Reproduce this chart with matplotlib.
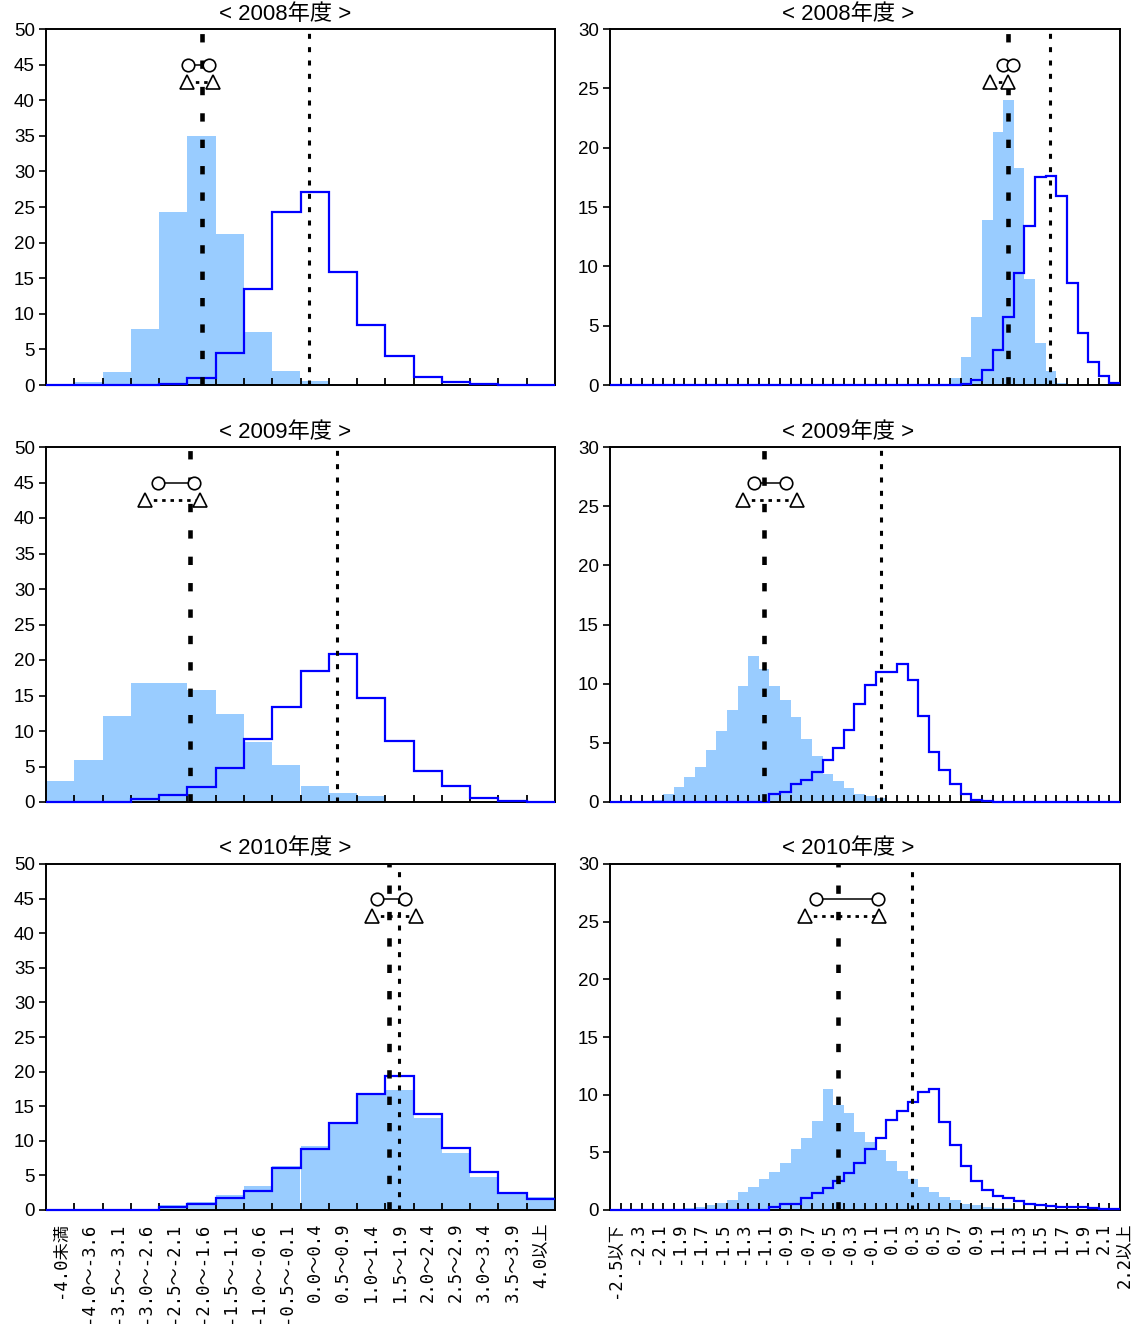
import numpy as np
import matplotlib
matplotlib.use("Agg")
import matplotlib.pyplot as plt
from matplotlib.transforms import ScaledTranslation

plt.rcParams['lines.scale_dashes'] = False
plt.rcParams['font.family'] = ['DejaVu Sans Mono', 'Noto Sans CJK JP']
SANS = ['Liberation Sans', 'Noto Sans CJK JP']

years = ["2008", "2009", "2010"]

left_labels = ["-4.0未満", "-4.0～-3.6", "-3.5～-3.1", "-3.0～-2.6", "-2.5～-2.1",
               "-2.0～-1.6", "-1.5～-1.1", "-1.0～-0.6", "-0.5～-0.1", "0.0～0.4",
               "0.5～0.9", "1.0～1.4", "1.5～1.9", "2.0～2.4", "2.5～2.9",
               "3.0～3.4", "3.5～3.9", "4.0以上"]

right_labels = ["-2.5以下", "-2.4", "-2.3", "-2.2", "-2.1", "-2.0", "-1.9", "-1.8",
                "-1.7", "-1.6", "-1.5", "-1.4", "-1.3", "-1.2", "-1.1", "-1.0",
                "-0.9", "-0.8", "-0.7", "-0.6", "-0.5", "-0.4", "-0.3", "-0.2",
                "-0.1", "0.0", "0.1", "0.2", "0.3", "0.4", "0.5", "0.6",
                "0.7", "0.8", "0.9", "1.0", "1.1", "1.2", "1.3", "1.4",
                "1.5", "1.6", "1.7", "1.8", "1.9", "2.0", "2.1", "2.2以上"]

# ---- left column (18 bins, 0-50) ----
fill_L_2008 = [0.1, 0.4, 1.8, 7.9, 24.3, 35.0, 21.2, 7.4, 2.0, 0.5, 0.1, 0.05, 0, 0, 0, 0, 0, 0]
line_L_2008 = [0, 0, 0, 0, 0.1, 1.0, 4.5, 13.5, 24.3, 27.1, 15.9, 8.4, 4.1, 1.1, 0.4, 0.1, 0.05, 0]
fill_L_2009 = [2.96, 5.9, 12.1, 16.7, 16.7, 15.8, 12.4, 8.5, 5.2, 2.25, 1.3, 0.8, 0.2, 0.05, 0, 0, 0, 0]
line_L_2009 = [0, 0, 0, 0.4, 1.0, 2.1, 4.8, 8.9, 13.4, 18.5, 20.8, 14.7, 8.6, 4.3, 2.25, 0.6, 0.2, 0]
fill_L_2010 = [0.1, 0.1, 0.15, 0.2, 0.7, 1.1, 2.2, 3.5, 6.4, 9.3, 12.6, 16.7, 17.4, 13.3, 8.3, 4.8, 2.6, 1.9]
line_L_2010 = [0, 0, 0, 0.05, 0.4, 0.9, 1.7, 2.7, 6.1, 8.8, 12.6, 16.7, 19.4, 13.9, 9.0, 5.5, 2.5, 1.6]

dash_L = [5.02, 4.60, 11.62]
dot_L = [8.79, 9.79, 11.97]
circ_L = [(4.51, 5.27), (3.47, 4.74), (11.20, 12.19)]
tri_L = [(4.49, 5.41), (3.00, 4.94), (11.02, 12.57)]

# ---- right column (48 bins, 0-30) ----
fill_R_2008 = [0]*31 + [0.1, 0.6, 2.4, 5.75, 13.9, 21.3, 24.0, 18.3, 8.9, 3.5, 1.2, 0.2, 0, 0, 0, 0, 0]
line_R_2008 = [0]*33 + [0.1, 0.4, 1.3, 2.95, 5.75, 9.4, 13.4, 17.5, 17.6, 15.9, 8.6, 4.4, 1.9, 0.8, 0.2]
fill_R_2009 = [0, 0, 0.05, 0.1, 0.2, 0.65, 1.3, 2.1, 3.0, 4.4, 6.0, 7.8, 9.8, 12.3, 11.2, 9.8,
               8.6, 7.2, 5.3, 3.9, 2.4, 1.8, 1.2, 0.7, 0.5, 0.3, 0.1] + [0]*21
line_R_2009 = [0]*15 + [0.65, 0.87, 1.5, 1.9, 2.5, 3.55, 4.6, 6.1, 8.3, 9.9, 11.0, 11.0, 11.7,
                        10.3, 7.3, 4.2, 2.7, 1.5, 0.65, 0.15, 0.1] + [0]*12
fill_R_2010 = [0, 0, 0, 0, 0, 0, 0.05, 0.15, 0.3, 0.45, 0.6, 0.85, 1.55, 2.0, 2.7, 3.3, 4.1,
               5.25, 6.2, 7.7, 10.5, 9.1, 8.45, 6.8, 5.9, 5.2, 4.25, 3.4, 2.7, 2.0, 1.55, 1.1,
               0.85, 0.55, 0.4, 0.3, 0.2, 0.15, 0.1, 0.1, 0.05, 0.05, 0, 0, 0, 0, 0, 0]
line_R_2010 = [0]*15 + [0.25, 0.55, 0.55, 1.0, 1.5, 1.9, 2.5, 3.2, 4.1, 5.25, 6.2, 7.8, 8.6, 9.4,
                        10.2, 10.5, 7.6, 5.6, 3.8, 2.5, 1.75, 1.2, 1.05, 0.75, 0.5, 0.4, 0.35,
                        0.3, 0.3, 0.25, 0.2, 0.1, 0.1]

dash_R = [36.99, 14.02, 20.99]
dot_R = [40.9, 25.0, 27.96]
circ_R = [(36.5, 37.4), (13.05, 16.06), (18.9, 24.75)]
tri_R = [(35.26, 36.99), (12.02, 17.1), (17.85, 24.85)]

fills_L = [fill_L_2008, fill_L_2009, fill_L_2010]
lines_L = [line_L_2008, line_L_2009, line_L_2010]
fills_R = [fill_R_2008, fill_R_2009, fill_R_2010]
lines_R = [line_R_2008, line_R_2009, line_R_2010]

W, H = 1139, 1329
fig = plt.figure(figsize=(W / 100, H / 100), dpi=100)

rows = [(29, 385), (447, 802), (864, 1210)]
cols = [(46, 555), (610, 1120)]
title_y = [15, 432, 849]
title_x = [285, 848]
LABEL_PAD = 9


def draw(ax, labels, fill, line, ymax, dx, tx, circ, tri, shown, show_labels, last_shift):
    n = len(labels)
    x = np.arange(n)
    ax.bar(x, fill, width=1.0, color='#99CCFF', linewidth=0, zorder=1)
    ax.stairs(line, np.arange(n + 1) - 0.5, baseline=None, color='#0000FF',
              lw=1.6, zorder=3, clip_on=False)
    ax.axvline(dx, color='black', lw=3.3, ls=(0, (6, 13)), zorder=4)
    ax.axvline(tx, color='black', lw=2.2, ls=(0, (3.6, 6)), zorder=4)
    ax.plot(circ, [0.9 * ymax] * 2, color='black', lw=1.1, marker='o', ms=9,
            mfc='white', mec='black', mew=1.2, zorder=6)
    ax.plot(tri, [0.85 * ymax] * 2, color='black', lw=2.0, ls=(0, (2.5, 3.5)), zorder=6)
    ax.plot(tri, [0.85 * ymax] * 2, ls='none', marker='^', ms=10, mfc='white',
            mec='black', mew=1.2, zorder=7)
    ax.set_xlim(-0.5, n - 0.5)
    ax.set_ylim(0, ymax)
    yt = np.arange(0, ymax + 1, 5)
    ax.set_yticks(yt)
    ax.set_yticklabels([str(int(v)) for v in yt], fontfamily=SANS, fontsize=13.5)
    ax.tick_params(axis='y', direction='out', length=5, width=1.2, pad=3)
    ax.set_xticks(np.arange(1, n) - 0.5, minor=True)
    ax.tick_params(axis='x', which='minor', direction='in', length=5, width=1.3)
    if show_labels:
        main = shown[:-1] if last_shift else shown
        ax.set_xticks(main)
        ax.set_xticklabels([labels[i] for i in main], rotation=90, va='top',
                           ha='center', fontsize=12.4)
        ax.tick_params(axis='x', which='major', length=0, pad=LABEL_PAD)
        if last_shift:
            k = shown[-1]
            tr = ax.get_xaxis_transform() + ScaledTranslation(
                last_shift / 100, -LABEL_PAD / 72, fig.dpi_scale_trans)
            ax.text(k, 0, labels[k], transform=tr, rotation=90, va='top',
                    ha='center', fontsize=12.4, clip_on=False)
    else:
        ax.set_xticks([])
    for s in ax.spines.values():
        s.set_linewidth(1.4)
        s.set_color('black')


for r in range(3):
    y0, y1 = rows[r]
    for c in range(2):
        x0, x1 = cols[c]
        ax = fig.add_axes([x0 / W, 1 - y1 / H, (x1 - x0) / W, (y1 - y0) / H])
        if c == 0:
            draw(ax, left_labels, fills_L[r], lines_L[r], 50, dash_L[r], dot_L[r],
                 circ_L[r], tri_L[r], list(range(len(left_labels))), r == 2, 0)
        else:
            shown = list(range(0, 47, 2)) + [47]
            draw(ax, right_labels, fills_R[r], lines_R[r], 30, dash_R[r], dot_R[r],
                 circ_R[r], tri_R[r], shown, r == 2, 10)
        fig.text(title_x[c] / W, 1 - title_y[r] / H, "< " + years[r] + "年度 >",
                 ha='center', va='center', fontsize=16, fontfamily=SANS)

fig.savefig("out.png", dpi=100)
